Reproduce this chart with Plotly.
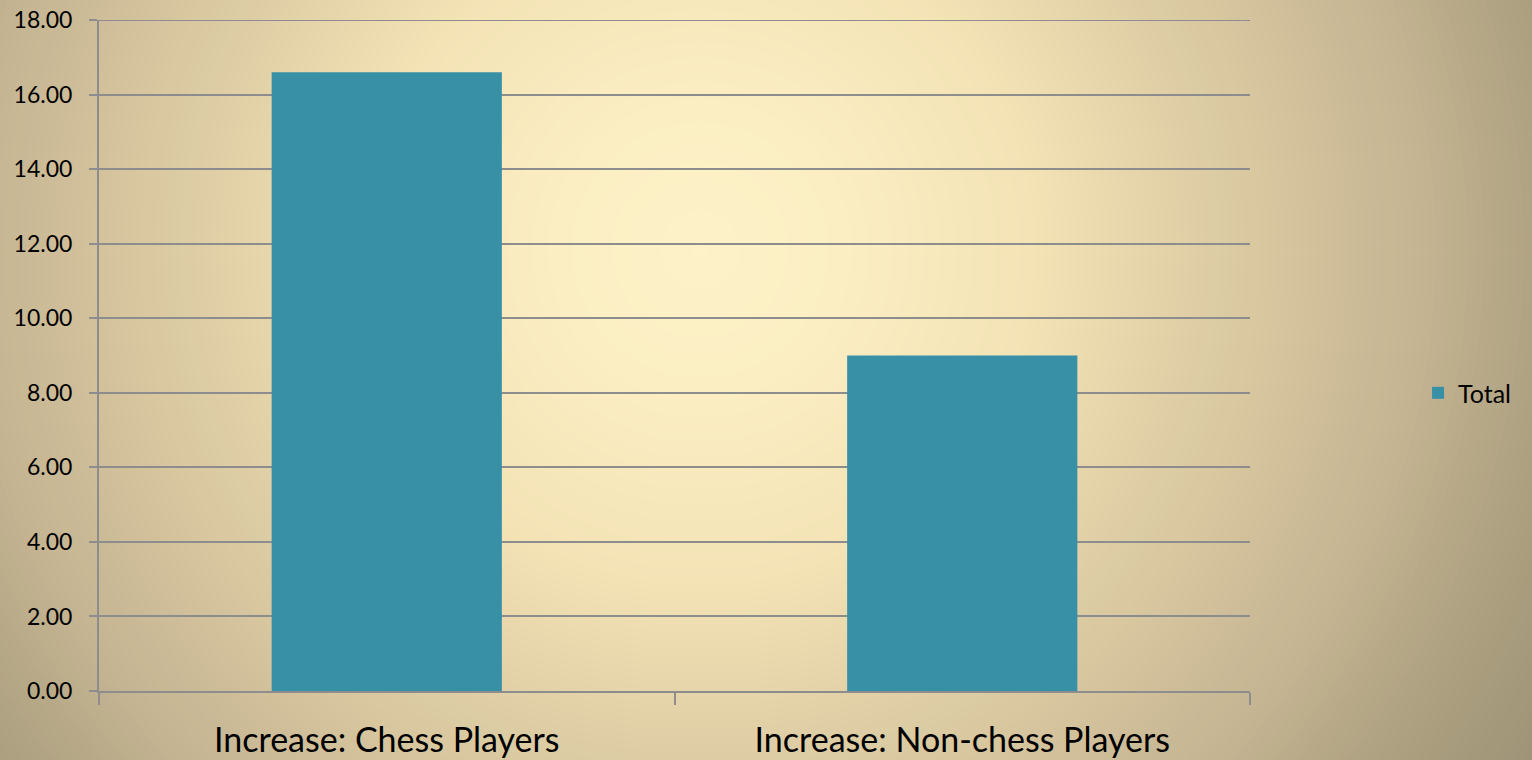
import plotly.graph_objects as go

categories = ["Increase: Chess Players", "Increase: Non-chess Players"]
values = [16.6, 9.0]
series_name = "Total"
y_ticks = [0, 2, 4, 6, 8, 10, 12, 14, 16, 18]
y_tick_labels = ["0.00", "2.00", "4.00", "6.00", "8.00", "10.00", "12.00", "14.00", "16.00", "18.00"]

W, H = 1532, 760
L, R, T, B = 99, 1250, 20, 691
PW, PH = R - L, B - T

# radial background gradient (style only)
stops = [(0, (253, 242, 200)), (150, (251, 238, 195)), (336, (243, 227, 181)),
         (557, (217, 200, 160)), (734, (195, 179, 145)), (860, (172, 160, 128)),
         (1000, (157, 146, 118))]

def col_at(d):
    for (d0, c0), (d1, c1) in zip(stops[:-1], stops[1:]):
        if d <= d1:
            t = (d - d0) / (d1 - d0)
            return tuple(round(a + (b - a) * t) for a, b in zip(c0, c1))
    return stops[-1][1]

cx, cy = 700, 250
shapes = []
r = 1000
while r > 0:
    c = col_at(r)
    shapes.append(dict(type="circle", xref="paper", yref="paper", layer="below",
                       x0=(cx - r - L) / PW, x1=(cx + r - L) / PW,
                       y0=(B - (cy + r)) / PH, y1=(B - (cy - r)) / PH,
                       fillcolor="rgb(%d,%d,%d)" % c, line=dict(width=0)))
    r -= 8

grid = "#8d8d8d"
# top gridline (plotly hides the gridline at the range end)
shapes.append(dict(type="line", xref="paper", yref="y", layer="below",
                   x0=-8 / PW, x1=1, y0=y_ticks[-1], y1=y_ticks[-1],
                   line=dict(color=grid, width=2)))

fig = go.Figure()
fig.add_trace(go.Bar(x=categories, y=values, name=series_name,
                     marker=dict(color="#3890a7", line=dict(width=0)),
                     width=0.4, showlegend=True))

fig.update_layout(
    width=W, height=H,
    margin=dict(l=L, r=W - R, t=T, b=H - B, pad=0, autoexpand=False),
    paper_bgcolor="rgb(157,146,118)",
    plot_bgcolor="rgba(0,0,0,0)",
    shapes=shapes,
    font=dict(family="Lato, Carlito, Calibri, sans-serif", color="#000000"),
    showlegend=True,
    legend=dict(x=1.146, y=0.444, xanchor="left", yanchor="middle",
                bgcolor="rgba(0,0,0,0)", font=dict(size=25)),
    bargap=0.6,
)
fig.update_xaxes(
    type="category", tickson="boundaries", ticks="outside", ticklen=12,
    tickwidth=2, tickcolor=grid, showline=True, linecolor=grid, linewidth=2,
    showgrid=False, tickfont=dict(size=34), automargin=False,
    ticklabelstandoff=18,
)
fig.update_yaxes(
    range=[0, 18], tickvals=y_ticks, ticktext=y_tick_labels,
    ticks="outside", ticklen=8, tickwidth=2, tickcolor=grid,
    showline=True, linecolor=grid, linewidth=2,
    showgrid=True, gridcolor=grid, gridwidth=2, zeroline=False,
    tickfont=dict(size=23), ticklabelstandoff=12, automargin=False,
)
fig.write_html("out.html")
